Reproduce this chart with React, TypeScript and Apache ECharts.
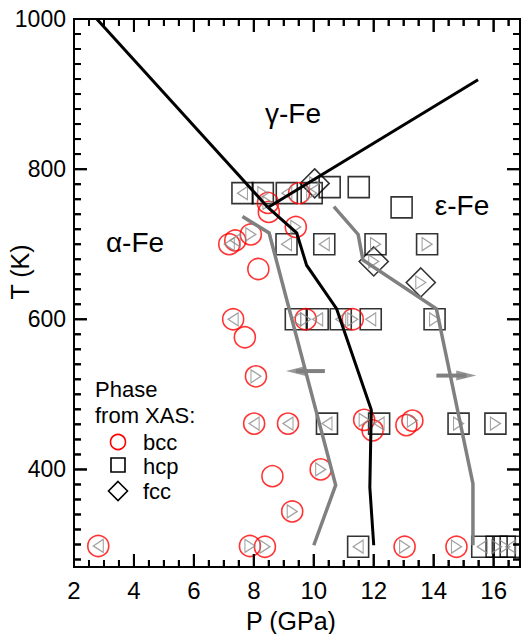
import React, { useEffect, useRef } from "react";
import * as echarts from "echarts";

const FONT = "'Liberation Sans', Arial, Helvetica, sans-serif";

const W = 521;
const H = 634;
const GRID = { left: 74, right: 1, top: 19, bottom: 67 };
const X_MIN = 2;
const X_MAX = 16.88;
const Y_MIN = 270;
const Y_MAX = 1000;
const xMajorTicks = [2, 4, 6, 8, 10, 12, 14, 16];
const xMinorTicks = [2.5, 3, 3.5, 4.5, 5, 5.5, 6.5, 7, 7.5, 8.5, 9, 9.5, 10.5, 11, 11.5, 12.5, 13, 13.5, 14.5, 15, 15.5, 16.5];
const yMajorTicks = [400, 600, 800, 1000];
const yMinorTicks = [280, 300, 320, 340, 360, 380, 420, 440, 460, 480, 500, 520, 540, 560, 580, 620, 640, 660, 680, 700, 720, 740, 760, 780, 820, 840, 860, 880, 900, 920, 940, 960, 980];

// [P (GPa), T (K), direction triangle: "L" | "R" | ""]
const bccPoints: [number, number, string][] = [
  [8.47, 755, "R"], [8.5, 743, ""], [9.51, 768, ""], [9.4, 723, "R"],
  [7.18, 700, "L"], [7.38, 705, "L"], [7.9, 713, "R"], [8.15, 667, ""],
  [7.31, 600, "L"], [7.7, 576, ""], [8.07, 524, "R"], [8.01, 461, "L"], [9.14, 461, "L"],
  [9.73, 600, "R"], [11.3, 600, "R"],
  [11.68, 466, "R"], [11.96, 452, ""], [13.09, 459, ""], [13.29, 465, "R"],
  [10.23, 400, "R"], [8.62, 391, ""], [9.28, 344, "R"],
  [2.81, 298, "L"], [7.87, 298, "R"], [8.37, 297, "R"], [13.03, 297, "R"], [14.76, 297, "R"],
];

const hcpPoints: [number, number, string][] = [
  [7.62, 768, "L"], [8.3, 768, "R"], [9.1, 768, "L"], [9.93, 768, "R"], [10.53, 776, ""], [11.5, 776, ""], [12.93, 749, ""],
  [9.09, 700, "L"], [10.35, 700, "L"], [12.06, 700, "R"], [13.78, 700, "R"],
  [9.4, 600, "L"], [10.13, 600, "L"], [10.9, 600, "L"], [11.9, 600, "L"], [14.03, 600, "R"],
  [10.44, 461, "L"], [12.18, 461, "L"], [14.83, 461, "R"], [16.06, 461, "R"],
  [11.48, 297, "L"], [15.62, 297, "L"], [16.1, 297, "R"], [16.37, 297, "R"], [16.57, 297, "L"],
];

const fccPoints: [number, number, string][] = [
  [10.03, 781, "R"], [12.0, 677, "R"], [13.57, 649, "R"],
];

const alphaGammaLine = [[2.76, 1000], [8.47, 749]];
const gammaEpsLine = [[8.47, 749], [15.48, 919]];
const alphaEpsLine = [[8.47, 749], [9.43, 715], [9.76, 672], [10.76, 614], [11.92, 479], [11.9, 440], [11.87, 376], [12.0, 299]];
const grayLeftLine = [[7.62, 737], [8.51, 715], [10.73, 379], [10.0, 299]];
const grayRightLine = [[10.67, 750], [11.48, 713], [11.64, 679], [14.09, 614], [15.31, 381], [15.31, 299]];
const arrowLeft = [[10.37, 531], [9.07, 531]];
const arrowRight = [[14.09, 525], [15.42, 525]];

const TRI_L = "path://M10,0 L0,6 L10,12 Z";
const TRI_R = "path://M0,0 L10,6 L0,12 Z";

const MAJOR_LEN = 13;
const MINOR_LEN = 7;

export default function App() {
  const ref = useRef<HTMLDivElement>(null);
  useEffect(() => {
    if (!ref.current) return;
    const chart = echarts.init(ref.current, null, { renderer: "svg" });
    const all = [...bccPoints, ...hcpPoints, ...fccPoints];
    const leftTri = all.filter((p) => p[2] === "L").map((p) => [p[0], p[1]]);
    const rightTri = all.filter((p) => p[2] === "R").map((p) => [p[0], p[1]]);
    const lineS = (data: number[][], color: string, width: number) => ({
      type: "line", data, showSymbol: false, symbol: "none", silent: true,
      lineStyle: { color, width, cap: "butt", join: "miter" }, z: 5,
    });
    const hollow = (borderColor: string, bw: number) => ({ color: "rgba(0,0,0,0)", borderColor, borderWidth: bw });

    // tick lengths in data units (pixels -> axis units)
    const xPerPx = (X_MAX - X_MIN) / (W - GRID.left - GRID.right);
    const yPerPx = (Y_MAX - Y_MIN) / (H - GRID.top - GRID.bottom);
    const kind = (v: number, majors: number[]) => (majors.includes(v) ? MAJOR_LEN : MINOR_LEN);
    const xTicksAll = [...xMajorTicks, ...xMinorTicks].sort((a, b) => a - b);
    const yTicksAll = [...yMajorTicks, ...yMinorTicks].sort((a, b) => a - b);
    const combX = (yBase: number, dir: number) => {
      const d: number[][] = [[X_MIN, yBase]];
      xTicksAll.forEach((v) => {
        const len = kind(v, xMajorTicks) * yPerPx * dir;
        d.push([v, yBase], [v, yBase + len], [v, yBase]);
      });
      d.push([X_MAX, yBase]);
      return d;
    };
    const combY = (xBase: number, dir: number) => {
      const d: number[][] = [[xBase, Y_MIN]];
      yTicksAll.forEach((v) => {
        const len = kind(v, yMajorTicks) * xPerPx * dir;
        d.push([xBase, v], [xBase + len, v], [xBase, v]);
      });
      d.push([xBase, Y_MAX]);
      return d;
    };
    const comb = (data: number[][]) => ({
      type: "line", data, showSymbol: false, symbol: "none", silent: true, clip: false,
      lineStyle: { color: "#000", width: 2, cap: "butt", join: "bevel" }, z: 8,
    });

    chart.setOption({
      animation: false,
      grid: { ...GRID, containLabel: false, outerBoundsMode: "none" },
      xAxis: {
        type: "value", position: "bottom", min: X_MIN, max: X_MAX, interval: 2,
        splitLine: { show: false },
        axisLine: { show: false, onZero: false },
        axisTick: { show: false },
        axisLabel: { show: true, fontSize: 24, color: "#000", fontFamily: FONT, margin: 11, showMaxLabel: false },
      },
      yAxis: {
        type: "value", position: "left", min: Y_MIN, max: Y_MAX,
        splitLine: { show: false },
        axisLine: { show: false, onZero: false },
        axisTick: { show: false },
        axisLabel: { show: true, customValues: yMajorTicks, fontSize: 23, color: "#000", fontFamily: FONT, margin: 8, formatter: (v: number) => String(v) },
      },
      series: [
        { type: "scatter", data: hcpPoints.map((p) => [p[0], p[1]]), symbol: "rect", symbolSize: 21, itemStyle: hollow("#000", 1.6), z: 2 },
        { type: "scatter", data: fccPoints.map((p) => [p[0], p[1]]), symbol: "diamond", symbolSize: 29, itemStyle: hollow("#000", 1.6), z: 2 },
        { type: "scatter", data: bccPoints.map((p) => [p[0], p[1]]), symbol: "circle", symbolSize: 21, itemStyle: hollow("#ff0000", 1.6), z: 3 },
        { type: "scatter", data: leftTri, symbol: TRI_L, symbolSize: [10, 13], itemStyle: hollow("#8a8a8a", 1.2), z: 4 },
        { type: "scatter", data: rightTri, symbol: TRI_R, symbolSize: [10, 13], itemStyle: hollow("#8a8a8a", 1.2), z: 4 },
        lineS(alphaGammaLine, "#000", 3),
        lineS(gammaEpsLine, "#000", 3),
        lineS(alphaEpsLine, "#000", 3),
        lineS(grayLeftLine, "#808080", 3.5),
        lineS(grayRightLine, "#808080", 3.5),
        lineS(arrowLeft.map((p, i) => (i === 1 ? [p[0] + 0.33, p[1]] : p)), "#808080", 4),
        lineS(arrowRight.map((p, i) => (i === 1 ? [p[0] - 0.33, p[1]] : p)), "#808080", 4),
        { type: "scatter", data: [arrowLeft[1]], symbol: "path://M0,5 L20,0 L20,10 Z", symbolSize: [20, 10], symbolOffset: [10, 0], itemStyle: { color: "#808080" }, z: 6 },
        { type: "scatter", data: [arrowRight[1]], symbol: "path://M20,5 L0,0 L0,10 Z", symbolSize: [20, 10], symbolOffset: [-10, 0], itemStyle: { color: "#808080" }, z: 6 },
        comb(combX(Y_MIN, 1)),
        comb(combX(Y_MAX, -1)),
        comb(combY(X_MIN, 1)),
        comb(combY(X_MAX, -1)),
      ],
    });

    const px = (v: number) => chart.convertToPixel({ xAxisIndex: 0 }, v) as number;
    const py = (v: number) => chart.convertToPixel({ yAxisIndex: 0 }, v) as number;
    const x0 = px(X_MIN), x1 = px(X_MAX), yb = py(Y_MIN), yt = py(Y_MAX);

    const tickRects: any[] = [];
    const blk = { fill: "#000" };
    xTicksAll.forEach((v) => {
      const x = px(v);
      const len = kind(v, xMajorTicks);
      tickRects.push({ type: "rect", shape: { x: x - 1, y: yb - len, width: 2, height: len }, style: blk, z: 10 });
      tickRects.push({ type: "rect", shape: { x: x - 1, y: yt, width: 2, height: len }, style: blk, z: 10 });
    });
    yTicksAll.forEach((v) => {
      const y = py(v);
      const len = kind(v, yMajorTicks);
      tickRects.push({ type: "rect", shape: { x: x0, y: y - 1, width: len, height: 2 }, style: blk, z: 10 });
      tickRects.push({ type: "rect", shape: { x: x1 - len, y: y - 1, width: len, height: 2 }, style: blk, z: 10 });
    });

    const txt = (text: string, x: number, y: number, fontSize: number, align = "left", rotation = 0) => ({
      type: "text", x, y, rotation, z: 10,
      style: { text, fontSize, fontFamily: FONT, fill: "#000", align, verticalAlign: "middle" },
    });

    chart.setOption({
      graphic: [
        { type: "rect", shape: { x: x0, y: yt, width: x1 - x0, height: yb - yt }, style: { fill: "none", stroke: "#000", lineWidth: 2 }, z: 10 },
        ...tickRects,
        txt("P (GPa)", 291, 621, 25, "center"),
        txt("T (K)", 20, 272, 25, "center", Math.PI / 2),
        txt("γ-Fe", 293, 113, 28, "center"),
        txt("α-Fe", 135, 242, 28, "center"),
        txt("ε-Fe", 462, 205, 28, "center"),
        txt("Phase", 95, 389, 22),
        txt("from XAS:", 95, 415, 22),
        { type: "circle", shape: { cx: 118, cy: 442, r: 7.5 }, style: { fill: "none", stroke: "#ff0000", lineWidth: 1.6 } },
        { type: "rect", shape: { x: 111, y: 458, width: 14, height: 14 }, style: { fill: "none", stroke: "#000", lineWidth: 1.6 } },
        { type: "polygon", shape: { points: [[118, 481.5], [127.5, 491], [118, 500.5], [108.5, 491]] }, style: { fill: "none", stroke: "#000", lineWidth: 1.6 } },
        txt("bcc", 143, 442, 22),
        txt("hcp", 143, 466, 22),
        txt("fcc", 143, 491, 22),
      ],
    });
    return () => chart.dispose();
  }, []);
  return <div ref={ref} style={{ position: "fixed", left: 0, top: 0, width: W, height: H, background: "#fff" }} />;
}
